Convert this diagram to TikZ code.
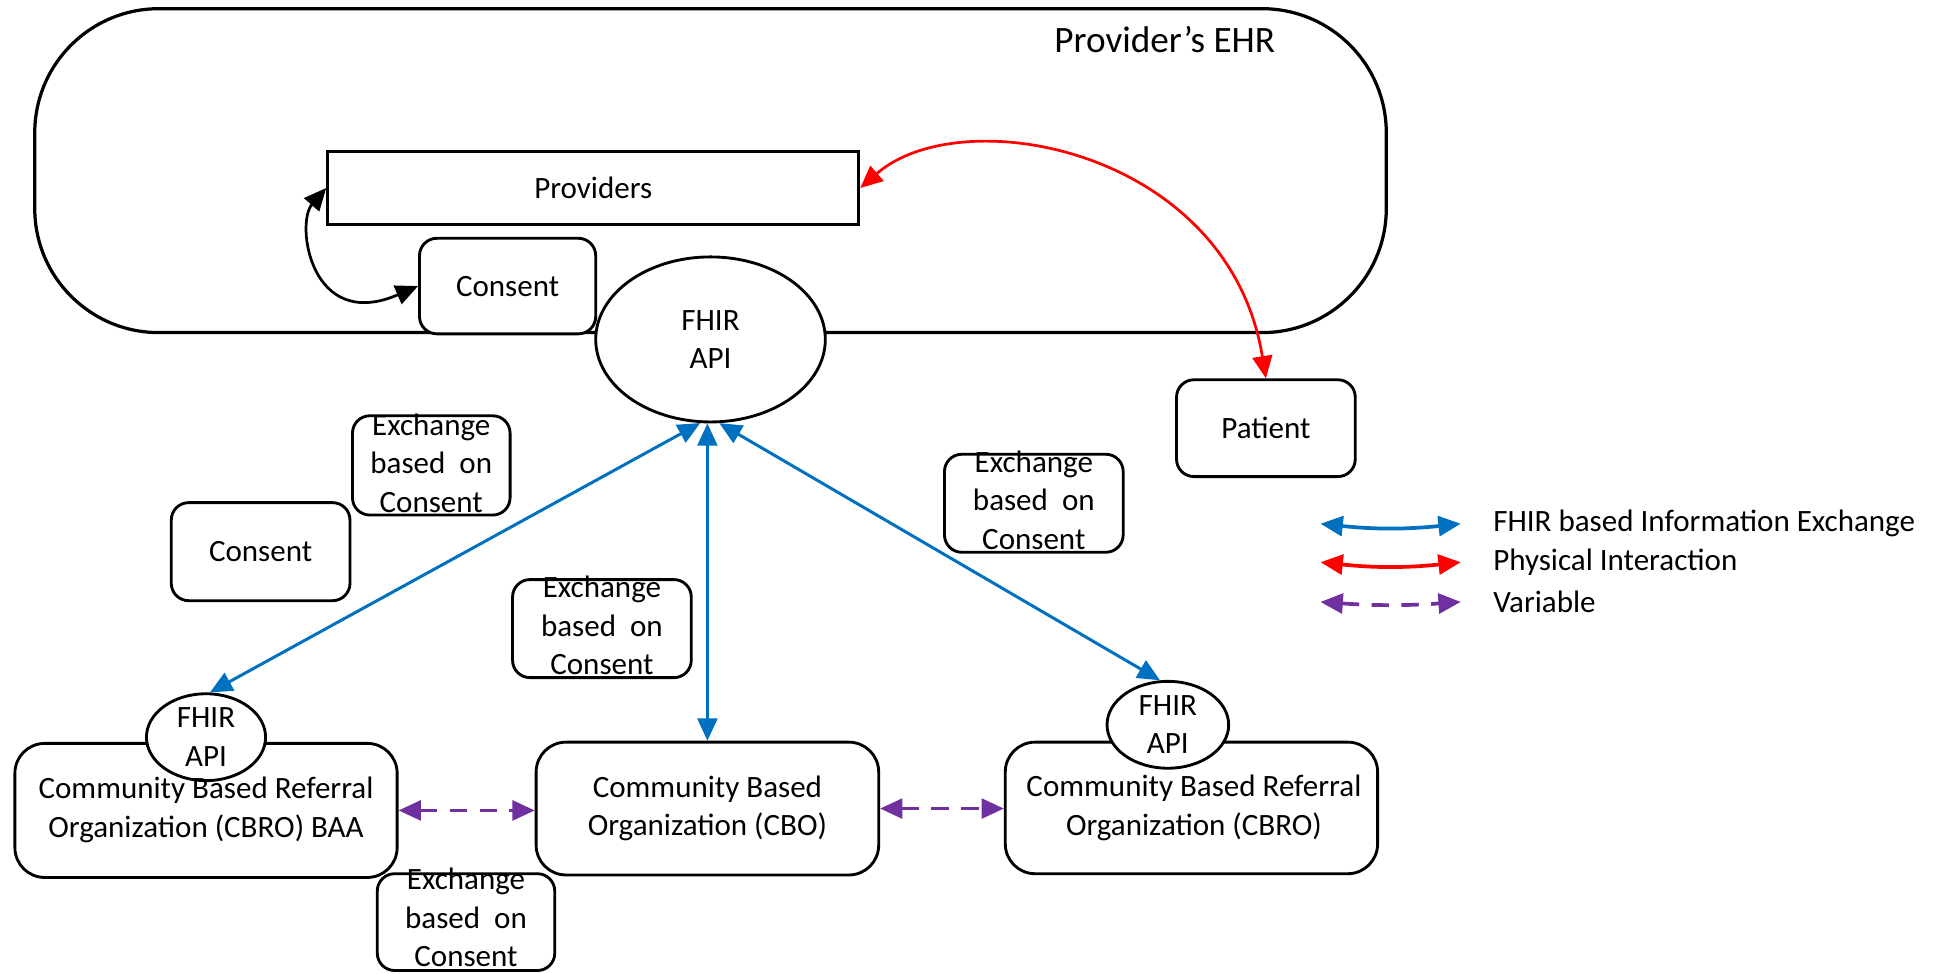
\documentclass[tikz,border=0pt]{standalone}
\usepackage{fontspec}
\setmainfont{Carlito}
\usetikzlibrary{arrows.meta,shapes.geometric}
\definecolor{fblue}{HTML}{0070C0}
\definecolor{fred}{HTML}{FF0000}
\definecolor{fpurple}{HTML}{7030A0}
\begin{document}
\begin{tikzpicture}[x=1pt,y=-1pt,
  txt/.style={font=\fontsize{25}{31}\selectfont, align=center, inner sep=0pt},
  box/.style={draw, line width=2.3pt, fill=white, inner sep=0pt},
  rbox/.style={box, rounded corners=14pt},
  bigbox/.style={box, rounded corners=24pt},
  api/.style={draw, line width=2.3pt, fill=white, ellipse, inner sep=0pt, txt},
  tips/.style={{Triangle[length=18pt,width=16pt]}-{Triangle[length=18pt,width=16pt]}},
  fhirline/.style={draw=fblue, line width=2.4pt, tips},
  physline/.style={draw=fred, line width=2.2pt, tips},
  blackline/.style={draw=black, line width=2.2pt, tips},
  varline/.style={draw=fpurple, line width=2.6pt, dash pattern=on 14pt off 10pt, tips},
  legline/.style={line width=3pt}
]
\path[use as bounding box] (0,0) rectangle (1568,784);

% Provider's EHR container
\node[box, line width=2.6pt, rounded corners=100pt, minimum width=1089pt, minimum height=261pt] (ehr) at (572.5,137.5) {};
\node[txt, font=\fontsize{30}{36}\selectfont, anchor=base] (ehrtitle) at (938.5,42.5) {Provider’s EHR};

\node[box, txt, minimum width=428pt, minimum height=59pt] (prov) at (478,151.5) {Providers};
\node[rbox, txt, minimum width=142pt, minimum height=77pt] (consentA) at (409,230.5) {Consent};
\node[api, minimum width=185pt, minimum height=133pt] (fhir) at (572.5,273.5) {FHIR\\API};

\node[rbox, txt, minimum width=144pt, minimum height=78pt] (patient) at (1020,345) {Patient};
\node[rbox, txt, minimum width=144pt, minimum height=79pt] (consentB) at (210,444.5) {Consent};

% Exchange based on Consent boxes
\node[rbox, minimum width=127pt, minimum height=80pt] (exA) at (347.5,375) {};
\node[txt] (exAt) at (347.5,373) {Exchange\\based\ \ on\\Consent};
\node[rbox, minimum width=144pt, minimum height=79pt] (exB) at (485,506.5) {};
\node[txt] (exBt) at (485,504) {Exchange\\based\ \ on\\Consent};
\node[rbox, minimum width=143pt, minimum height=78pt] (exC) at (375.5,743) {};
\node[txt] (exCt) at (375.5,739.5) {Exchange\\based\ \ on\\Consent};
\node[rbox, minimum width=144pt, minimum height=79pt] (exD) at (833,405.5) {};
\node[txt] (exDt) at (833,403) {Exchange\\based\ \ on\\Consent};

% Bottom organisations
\node[bigbox, minimum width=308pt, minimum height=108pt] (cbroL) at (166,653) {};
\node[bigbox, txt, minimum width=276pt, minimum height=107pt] (cbo) at (570,651.5) {Community Based\\Organization (CBO)};
\node[bigbox, minimum width=300pt, minimum height=106pt] (cbroR) at (960,651) {};
\node[api, minimum width=96pt, minimum height=70pt] (apiL) at (166,594) {FHIR\\API};
\node[api, minimum width=98pt, minimum height=70pt] (apiR) at (941,584) {FHIR\\API};
\node[txt] (cbroLt) at (166,652.5) {Community Based Referral\\Organization (CBRO) BAA};
\node[txt] (cbroRt) at (962,651) {Community Based Referral\\Organization (CBRO)};

% Connectors
\draw[blackline] (prov.west) .. controls (238,180) and (250,268) .. (consentA.west);
\draw[physline] (prov.east) .. controls (775,80) and (990,120) .. (patient.north);
\draw[fhirline] (fhir.-97) -- (apiL.85);
\draw[fhirline] (cbo.north |- fhir.south) -- (cbo.north);
\draw[fhirline] (fhir.-84) -- (apiR.100);
\draw[varline] (cbroL.east) -- (cbroL.east -| cbo.west);
\draw[varline] (cbo.east) -- (cbo.east -| cbroR.west);

% Legend
\coordinate (l1a) at (1064,422); \coordinate (l1b) at (1177,422);
\coordinate (l2a) at (1064,453); \coordinate (l2b) at (1177,453);
\coordinate (l3a) at (1064,485); \coordinate (l3b) at (1177,485);
\draw[fhirline, legline] (l1a) to[bend right=6] (l1b);
\draw[physline, legline] (l2a) to[bend right=6] (l2b);
\draw[varline, legline] (l3a) to[bend right=4] (l3b);
\node[txt, anchor=west] (leg1) at (1203,422) {FHIR based Information Exchange};
\node[txt, anchor=west] (leg2) at (1203,453) {Physical Interaction};
\node[txt, anchor=west] (leg3) at (1203,485) {Variable};
\end{tikzpicture}
\end{document}
